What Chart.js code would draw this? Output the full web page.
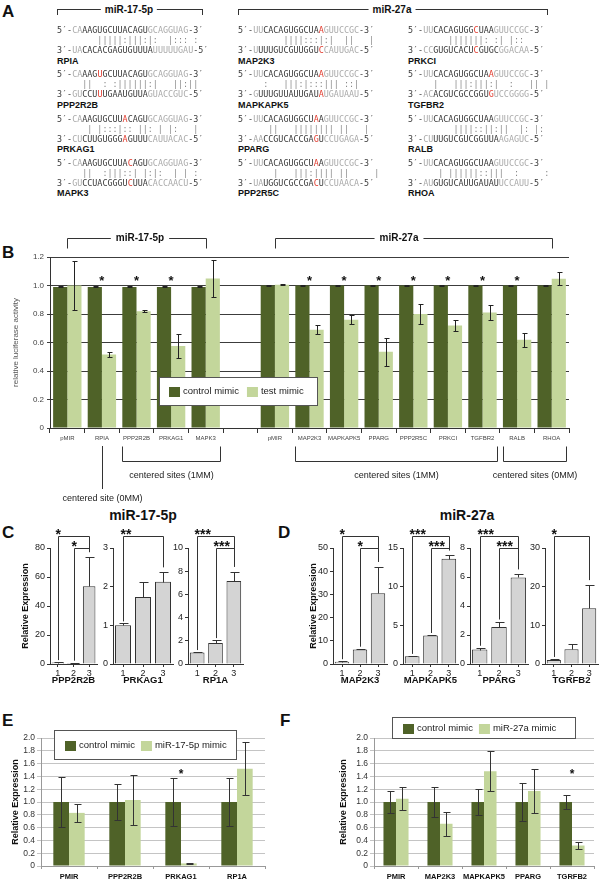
<!DOCTYPE html>
<html>
<head>
<meta charset="utf-8">
<script src="https://cdn.jsdelivr.net/npm/chart.js@4.4.0/dist/chart.umd.min.js"></script>
<style>
  body { margin: 0; background: #fff; }
  #page { position: relative; width: 600px; height: 883px; overflow: hidden; font-family: Arial, "Liberation Sans", sans-serif; }
  canvas { position: absolute; }
  .letter { position: absolute; font: bold 17px Arial, "Liberation Sans", sans-serif; color: #111; line-height: 17px; }
  .seq { position: absolute; font: 8.4px "DejaVu Sans Mono", monospace; white-space: pre; line-height: 10px; color: #3a3a3a; transform: translateZ(0); }
  .seq .g { color: #aaa; }
  .seq .r { color: #e23b2e; }
  .pairs { color: #8a8a8a; }
  .gene { position: absolute; font: bold 9px Arial, "Liberation Sans", sans-serif; color: #111; line-height: 10px; }
  .bracket { position: absolute; border: 1px solid #333; border-bottom: none; height: 5px; }
  .blabel { position: absolute; font: bold 10px Arial, "Liberation Sans", sans-serif; background: #fff; padding: 0 4px; transform: translate(-50%, -50%); color: #111; }
  .ptitle { position: absolute; font: bold 14px Arial, "Liberation Sans", sans-serif; transform: translate(-50%, -50%); color: #111; }
</style>
</head>
<body>
<div id="page"></div>
<script>
const DARK = "#4f6228";
const LIGHT = "#c3d69b";

// Panel A - alignments (lowercase = grey flank, (X) = red mismatch)
const aHeaders = ["miR-17-5p", "miR-27a"];
const aGenes = [
  ["RPIA", "PPP2R2B", "PRKAG1", "MAPK3"],
  ["MAP2K3", "MAPKAPK5", "PPARG", "PPP2R5C"],
  ["PRKCI", "TGFBR2", "RALB", "RHOA"]
];
const aMirna = [
  ["caAAGUGCUUACAGUgcagguag", "caAAG(U)GCUUACAGUgcagguag", "caAAGUGCUU(A)CAGUgcagguag", "caAAGUGCUUA(C)AGUgcagguag"],
  ["uuCACAGUGGCUA(A)guuccgc", "uuCACAGUGGCUA(A)guuccgc", "uuCACAGUGGCU(A)Aguuccgc", "uuCACAGUGGCU(A)Aguuccgc"],
  ["uuCACAGUGG(C)UAAguuccgc", "uuCACAGUGGCUA(A)guuccgc", "uuCACAGUGGCUAAguuccgc", "uuCACAGUGGCUAAguuccgc"]
];
const aPairs = [
  ["     |||||:|||:|:  |::: :", "  ||  : :||||||:|   ||:||", "   | |:::|:: ||: | |:   |", "  ||  :|||::| |:|:  | | :"],
  ["      ||||:::|:|  ||   |", "  :   |||:|:::||| ::|", "   ||   |||||||| ||   |", "    |   |||:|||| ||     |"],
  ["     |||||||: :| |::", "  |   |||:|||:|  :   || |", "      ||||::||:||  |: |:", "   | ||||||::|||  :     :"]
];
const aTarget = [
  ["uaCACACGAGUGUUUAuuuuugau", "guCCU(U)UGAAUGUUAguaccguc", "cuCUUGUGGG(A)GUUUcauuacac", "guCCUACGGGU(C)UUAcaccaacu"],
  ["uUUUGUCGUUGGU(C)cauugac", "gUUUGUUAUUGAU(A)ugauaau", "aaCCGUCACCGA(G)Uccugaga", "uaUGGUCGCCGA(C)Uccuaaca"],
  ["ccGUGUCACU(C)GUGCggacaa", "acACGUCGCCGGU(G)uccgggg", "cuUUGUCGUCGGUUAagaguc", "auGUGUCAUUGAUAUuccauu"]
];

// Panel B - luciferase
const bLabels = ["pMIR", "RPIA", "PPP2R2B", "PRKAG1", "MAPK3", "", "pMIR", "MAP2K3", "MAPKAPK5", "PPARG", "PPP2R5C", "PRKCI", "TGFBR2", "RALB", "RHOA"];
const bControl = [0.99, 0.99, 0.99, 0.99, 0.99, null, 1.0, 1.0, 1.0, 1.0, 1.0, 1.0, 1.0, 1.0, 1.0];
const bControlErr = [0.004, 0.004, 0.004, 0.004, 0.004, null, 0.003, 0.003, 0.003, 0.003, 0.003, 0.003, 0.003, 0.003, 0.003];
const bTest = [1.0, 0.515, 0.82, 0.575, 1.05, null, 1.005, 0.69, 0.76, 0.535, 0.80, 0.72, 0.81, 0.62, 1.047];
const bTestErr = [0.17, 0.02, 0.005, 0.083, 0.13, null, 0.004, 0.03, 0.03, 0.1, 0.07, 0.04, 0.055, 0.05, 0.045];
const bStars = [0, 1, 1, 1, 0, 0, 0, 1, 1, 1, 1, 1, 1, 1, 0];
const bGroups = [[0, 4, "miR-17-5p"], [6, 14, "miR-27a"]];
const bSites = [[2, 4, "centered sites (1MM)"], [7, 12, "centered sites (1MM)"], [13, 14, "centered sites (0MM)"]];
const bSingleSite = [1, "centered site (0MM)"];

// Panel C - miR-17-5p expression
const cGenes = ["PPP2R2B", "PRKAG1", "RP1A"];
const cMeans = [[1.0, 0.7, 53.7], [1.0, 1.73, 2.13], [1.0, 1.8, 7.15]];
const cErrs = [[0.3, 0.2, 20], [0.05, 0.39, 0.24], [0.03, 0.26, 0.8]];
const cMax = [80, 3, 10];
const cStep = [20, 1, 2];
const cSig = [[[0, 2, "*"], [1, 2, "*"]], [[0, 2, "**"]], [[0, 2, "***"], [1, 2, "***"]]];

// Panel D - miR-27a expression
const dGenes = ["MAP2K3", "MAPKAPK5", "PPARG", "TGRFB2"];
const dMeans = [[1.0, 6.3, 30.5], [1.0, 3.7, 13.6], [1.0, 2.55, 5.97], [1.05, 3.8, 14.4]];
const dErrs = [[0.2, 0.3, 11.4], [0.05, 0.05, 0.45], [0.12, 0.38, 0.22], [0.25, 1.3, 6.0]];
const dMax = [50, 15, 8, 30];
const dStep = [10, 5, 2, 10];
const dSig = [[[0, 2, "*"], [1, 2, "*"]], [[0, 2, "***"], [1, 2, "***"]], [[0, 2, "***"], [1, 2, "***"]], [[0, 2, "*"]]];

// Panel E / F - mimic experiments
const eLabels = ["PMIR", "PPP2R2B", "PRKAG1", "RP1A"];
const eControl = [1.0, 1.0, 1.0, 1.0];
const eControlErr = [0.39, 0.28, 0.37, 0.37];
const eMimic = [0.83, 1.03, 0.04, 1.52];
const eMimicErr = [0.14, 0.39, 0.005, 0.41];
const eStars = [0, 0, 1, 0];

const fLabels = ["PMIR", "MAP2K3", "MAPKAPK5", "PPARG", "TGRFB2"];
const fControl = [1.0, 1.0, 1.0, 1.0, 1.0];
const fControlErr = [0.17, 0.23, 0.2, 0.29, 0.11];
const fMimic = [1.05, 0.66, 1.48, 1.17, 0.32];
const fMimicErr = [0.18, 0.19, 0.31, 0.34, 0.05];
const fStars = [0, 0, 0, 0, 1];

Chart.defaults.font.family = 'Arial, "Liberation Sans", sans-serif';
const page = document.getElementById("page");

function addDiv(cls, left, top, html) {
  const d = document.createElement("div");
  d.className = cls;
  d.style.left = left + "px";
  d.style.top = top + "px";
  d.innerHTML = html;
  page.appendChild(d);
  return d;
}

function makeCanvas(left, top, w, h) {
  const c = document.createElement("canvas");
  c.width = w; c.height = h;
  c.style.left = left + "px"; c.style.top = top + "px";
  c.style.width = w + "px"; c.style.height = h + "px";
  page.appendChild(c);
  return c;
}

function seqHTML(s) {
  let out = "", red = false;
  for (const ch of s) {
    if (ch === "(") { red = true; continue; }
    if (ch === ")") { red = false; continue; }
    if (red) out += '<span class="r">' + ch + "</span>";
    else if (ch >= "a" && ch <= "z") out += '<span class="g">' + ch.toUpperCase() + "</span>";
    else out += ch;
  }
  return out;
}

const tickLabel = v => (v === 0 ? "0" : v.toFixed(1));

// ---------- panel letters + titles
[["A", 2, 3], ["B", 2, 244], ["C", 2, 524], ["D", 278, 524], ["E", 2, 712], ["F", 280, 712]]
  .forEach(([t, x, y]) => addDiv("letter", x, y, t));
addDiv("ptitle", 143, 515, "miR-17-5p");
addDiv("ptitle", 467, 515, "miR-27a");

// ---------- panel A
const aColX = [57, 238, 408];
aGenes.forEach((col, c) => col.forEach((gene, r) => {
  const top = 25 + r * 44.3;
  addDiv("seq", aColX[c], top, "5\u2032-" + seqHTML(aMirna[c][r]) + "-3\u2032");
  addDiv("seq pairs", aColX[c], top + 10, "   " + aPairs[c][r]);
  addDiv("seq", aColX[c], top + 20, "3\u2032-" + seqHTML(aTarget[c][r]) + "-5\u2032");
  addDiv("gene", aColX[c], top + 30.5, gene);
}));
// header brackets
const aSpans = [[57, 201], [238, 546]];
aHeaders.forEach((h, i) => {
  const [x1, x2] = aSpans[i];
  const b = addDiv("bracket", x1, 9, "");
  b.style.width = (x2 - x1) + "px";
  addDiv("blabel", (x1 + x2) / 2, 9, h);
});

// ---------- plugins
const errorBars = {
  id: "errorBars",
  afterDatasetsDraw(chart, args, o) {
    const ctx = chart.ctx, ys = chart.scales.y;
    ctx.save();
    ctx.strokeStyle = o.color || "#222";
    ctx.lineWidth = 1;
    chart.data.datasets.forEach((ds, di) => {
      if (!ds.errors) return;
      chart.getDatasetMeta(di).data.forEach((bar, i) => {
        const v = ds.data[i], e = ds.errors[i];
        if (v == null || e == null) return;
        const x = Math.round(bar.x) + 0.5;
        const yTop = Math.round(ys.getPixelForValue(v + e)) + 0.5;
        const yBot = Math.round(ys.getPixelForValue(o.upperOnly ? v : v - e)) + 0.5;
        ctx.beginPath();
        ctx.moveTo(x, yTop); ctx.lineTo(x, yBot);
        ctx.moveTo(x - o.cap, yTop); ctx.lineTo(x + o.cap + 1, yTop);
        if (!o.upperOnly) { ctx.moveTo(x - o.cap, yBot); ctx.lineTo(x + o.cap + 1, yBot); }
        ctx.stroke();
      });
    });
    ctx.restore();
  }
};

const starMarks = {
  id: "starMarks",
  afterDatasetsDraw(chart, args, o) {
    const ctx = chart.ctx, xs = chart.scales.x, ys = chart.scales.y;
    ctx.save();
    ctx.font = o.font;
    ctx.fillStyle = "#111";
    ctx.textAlign = "center";
    ctx.textBaseline = "middle";
    o.flags.forEach((f, i) => {
      if (f) ctx.fillText("*", xs.getPixelForValue(i), ys.getPixelForValue(o.value));
    });
    ctx.restore();
  }
};

// custom legend box drawn inside the plot
const boxLegend = {
  id: "boxLegend",
  afterDraw(chart, args, o) {
    const ctx = chart.ctx;
    ctx.save();
    ctx.fillStyle = "#fff";
    ctx.fillRect(o.x, o.y, o.w, o.h);
    ctx.strokeStyle = "#555";
    ctx.lineWidth = 1;
    ctx.strokeRect(o.x + 0.5, o.y + 0.5, o.w, o.h);
    ctx.font = o.font;
    ctx.textBaseline = "middle";
    let x = o.x + o.padLeft;
    const cy = o.y + o.h / 2 + 0.5;
    chart.data.datasets.forEach(ds => {
      ctx.fillStyle = ds.backgroundColor;
      ctx.fillRect(x, Math.round(cy - 4.5), 11, 10);
      ctx.fillStyle = "#222";
      ctx.fillText(ds.label, x + 14, cy);
      x += 14 + ctx.measureText(ds.label).width + o.gap;
    });
    ctx.restore();
  }
};

// brackets and site notes of panel B
const bAnnotations = {
  id: "bAnnotations",
  afterDraw(chart, args, o) {
    const { ctx, chartArea } = chart;
    const xs = chart.scales.x;
    const cw = xs.width / chart.data.labels.length;
    const px = v => Math.round(v) + 0.5;
    ctx.save();
    ctx.strokeStyle = "#333";
    ctx.lineWidth = 1;
    ctx.fillStyle = "#111";
    ctx.textAlign = "center";
    ctx.textBaseline = "middle";

    ctx.font = 'bold 10px Arial, "Liberation Sans", sans-serif';
    o.groups.forEach(([a, b, label], k) => {
      const x1 = px(xs.getPixelForValue(a)), x2 = px(xs.getPixelForValue(b));
      const y = px(chartArea.top - 19);
      const xm = (x1 + x2) / 2 + o.labelShift[k], half = ctx.measureText(label).width / 2 + 5;
      ctx.beginPath();
      ctx.moveTo(x1, y + 10); ctx.lineTo(x1, y); ctx.lineTo(xm - half, y);
      ctx.moveTo(xm + half, y); ctx.lineTo(x2, y); ctx.lineTo(x2, y + 10);
      ctx.stroke();
      ctx.fillText(label, xm, y);
    });

    ctx.font = '9px Arial, "Liberation Sans", sans-serif';
    ctx.fillStyle = "#222";
    o.sites.forEach(([a, b, label]) => {
      const x1 = px(xs.getPixelForValue(a) - cw / 2 + 3), x2 = px(xs.getPixelForValue(b) + cw / 2 - 3);
      const y1 = px(chartArea.bottom + 18), y2 = px(chartArea.bottom + 33);
      ctx.beginPath();
      ctx.moveTo(x1, y1); ctx.lineTo(x1, y2); ctx.lineTo(x2, y2); ctx.lineTo(x2, y1);
      ctx.stroke();
      ctx.fillText(label, (x1 + x2) / 2, chartArea.bottom + 48);
    });

    const sx = px(xs.getPixelForValue(o.single[0]));
    ctx.beginPath();
    ctx.moveTo(sx, chartArea.bottom + 18); ctx.lineTo(sx, chartArea.bottom + 61);
    ctx.stroke();
    ctx.fillText(o.single[1], sx, chartArea.bottom + 71);
    ctx.restore();
  }
};

// significance brackets of panels C and D
const sigBrackets = {
  id: "sigBrackets",
  afterDatasetsDraw(chart, args, o) {
    const { ctx, chartArea } = chart;
    const ys = chart.scales.y;
    const ds = chart.data.datasets[0];
    const bars = chart.getDatasetMeta(0).data;
    ctx.save();
    ctx.strokeStyle = "#333";
    ctx.lineWidth = 1;
    ctx.fillStyle = "#111";
    ctx.font = 'bold 14px Arial, "Liberation Sans", sans-serif';
    ctx.textAlign = "left";
    ctx.textBaseline = "alphabetic";
    o.pairs.forEach(([i, j, label], k) => {
      const yLine = Math.round(chartArea.top - 12 + 12 * k) + 0.5;
      const xi = Math.round(bars[i].x) + 0.5, xj = Math.round(bars[j].x) + 0.5;
      const yi = ys.getPixelForValue(ds.data[i] + ds.errors[i]) - 2;
      const yj = ys.getPixelForValue(ds.data[j] + ds.errors[j]) - 5;
      ctx.beginPath();
      ctx.moveTo(xi, yi); ctx.lineTo(xi, yLine); ctx.lineTo(xj, yLine); ctx.lineTo(xj, yj);
      ctx.stroke();
      ctx.fillText(label, xi - 3, yLine + 2);
    });
    ctx.restore();
  }
};

// ---------- panel B
new Chart(makeCanvas(0, 225, 600, 285), {
  type: "bar",
  data: {
    labels: bLabels,
    datasets: [
      { label: "control mimic", data: bControl, errors: bControlErr, backgroundColor: DARK },
      { label: "test mimic", data: bTest, errors: bTestErr, backgroundColor: LIGHT }
    ]
  },
  options: {
    animation: false, responsive: false, devicePixelRatio: 1,
    layout: { padding: { left: 9, top: 32, right: 31, bottom: 62 } },
    datasets: { bar: { categoryPercentage: 0.82, barPercentage: 1 } },
    scales: {
      x: {
        grid: { drawOnChartArea: false, color: "#333", tickLength: 5 },
        border: { color: "#333" },
        ticks: { font: { size: 6 }, color: "#444", autoSkip: false, maxRotation: 0, padding: 2 },
        afterFit: s => { s.height = 20; }
      },
      y: {
        min: 0, max: 1.2,
        ticks: { stepSize: 0.2, autoSkip: false, font: { size: 8 }, color: "#444", padding: 3, callback: tickLabel },
        grid: { color: "#3c3c3c", tickLength: 3 },
        border: { color: "#333" },
        title: { display: true, text: "relative luciferase activity", font: { size: 8 }, color: "#555", padding: { top: 2, bottom: 2 } },
        afterFit: s => { s.width = 41; }
      }
    },
    plugins: {
      legend: { display: false }, tooltip: { enabled: false },
      errorBars: { cap: 2, color: "#222" },
      starMarks: { flags: bStars, value: 1.03, font: 'bold 13px Arial, "Liberation Sans", sans-serif' },
      boxLegend: { x: 159, y: 152, w: 158, h: 28, padLeft: 10, gap: 8, font: '9.5px Arial, "Liberation Sans", sans-serif' },
      bAnnotations: { groups: bGroups, sites: bSites, single: bSingleSite, labelShift: [3, -15] }
    }
  },
  plugins: [errorBars, starMarks, bAnnotations, boxLegend]
});

// ---------- panels C and D (small bar plots)
function smallChart(left, axisX, rightX, gene, values, errors, max, step, sig, yTitle) {
  const yWidth = axisX - left;
  new Chart(makeCanvas(left, 520, rightX - left + 4, 170), {
    type: "bar",
    data: {
      labels: ["1", "2", "3"],
      datasets: [{ data: values, errors: errors, backgroundColor: "#d4d4d4", borderColor: "#333", borderWidth: 1, barPercentage: 0.8, categoryPercentage: 1 }]
    },
    options: {
      animation: false, responsive: false, devicePixelRatio: 1,
      layout: { padding: { left: 0, right: 4, top: 28, bottom: 4 } },
      scales: {
        x: {
          grid: { offset: false, drawOnChartArea: false, tickLength: 3, color: "#333" },
          border: { color: "#333" },
          ticks: { font: { size: 9 }, color: "#222", padding: 1 },
          title: { display: true, text: gene, font: { size: 9.5, weight: "bold" }, color: "#111", padding: 0 },
          afterFit: s => { s.height = 22; }
        },
        y: {
          min: 0, max: max,
          ticks: { stepSize: step, autoSkip: false, font: { size: 9 }, color: "#222", padding: 2 },
          grid: { drawOnChartArea: false, tickLength: 3, color: "#333" },
          border: { color: "#333" },
          title: { display: yTitle, text: "Relative Expression", font: { size: 9, weight: "bold" }, color: "#111", padding: { top: 4, bottom: 0 } },
          afterFit: s => { s.width = yWidth; }
        }
      },
      plugins: {
        legend: { display: false }, tooltip: { enabled: false },
        errorBars: { cap: 4, upperOnly: true, color: "#333" },
        sigBrackets: { pairs: sig }
      }
    },
    plugins: [errorBars, sigBrackets]
  });
}

const cAxes = [[16, 50, 97], [97, 113, 173], [172, 188, 243]];
cGenes.forEach((g, i) => smallChart(cAxes[i][0], cAxes[i][1], cAxes[i][2], g, cMeans[i], cErrs[i], cMax[i], cStep[i], cSig[i], i === 0));
const dAxes = [[304, 333, 387], [387, 403, 458], [454, 470, 528], [529, 545, 598]];
dGenes.forEach((g, i) => smallChart(dAxes[i][0], dAxes[i][1], dAxes[i][2], g, dMeans[i], dErrs[i], dMax[i], dStep[i], dSig[i], i === 0));

// ---------- panels E and F
function mimicChart(left, width, pad, yWidth, catPct, labels, ctrl, ctrlErr, mimic, mimicErr, mimicLabel, stars, legend) {
  new Chart(makeCanvas(left, 712, width, 171), {
    type: "bar",
    data: {
      labels: labels,
      datasets: [
        { label: "control mimic", data: ctrl, errors: ctrlErr, backgroundColor: DARK },
        { label: mimicLabel, data: mimic, errors: mimicErr, backgroundColor: LIGHT }
      ]
    },
    options: {
      animation: false, responsive: false, devicePixelRatio: 1,
      layout: { padding: pad },
      datasets: { bar: { categoryPercentage: catPct, barPercentage: 1 } },
      scales: {
        x: {
          grid: { drawOnChartArea: false, color: "#999", tickLength: 3 },
          border: { color: "#999" },
          ticks: { font: { size: 7.5, weight: "bold" }, color: "#111", autoSkip: false, maxRotation: 0, padding: 3 },
          afterFit: s => { s.height = 14; }
        },
        y: {
          min: 0, max: 2.0,
          ticks: { stepSize: 0.2, autoSkip: false, font: { size: 8.5 }, color: "#333", padding: 2, callback: tickLabel },
          grid: { color: "#c4c4c4", tickLength: 4 },
          border: { color: "#999" },
          title: { display: true, text: "Relative Expression", font: { size: 9, weight: "bold" }, color: "#111", padding: { top: 4, bottom: 0 } },
          afterFit: s => { s.width = yWidth; }
        }
      },
      plugins: {
        legend: { display: false }, tooltip: { enabled: false },
        errorBars: { cap: 3, color: "#333" },
        starMarks: { flags: stars, value: 1.42, font: 'bold 12px Arial, "Liberation Sans", sans-serif' },
        boxLegend: legend
      }
    },
    plugins: [errorBars, starMarks, boxLegend]
  });
}

mimicChart(0, 290, { left: 6, right: 25, top: 26, bottom: 3 }, 35, 0.56,
  eLabels, eControl, eControlErr, eMimic, eMimicErr, "miR-17-5p mimic", eStars,
  { x: 54, y: 18, w: 182, h: 29, padLeft: 11, gap: 6, font: '9.5px Arial, "Liberation Sans", sans-serif' });

mimicChart(300, 300, { left: 34, right: 6, top: 26, bottom: 3 }, 40, 0.57,
  fLabels, fControl, fControlErr, fMimic, fMimicErr, "miR-27a mimic", fStars,
  { x: 92, y: 5, w: 183, h: 21, padLeft: 11, gap: 6, font: '9.5px Arial, "Liberation Sans", sans-serif' });
</script>
</body>
</html>
